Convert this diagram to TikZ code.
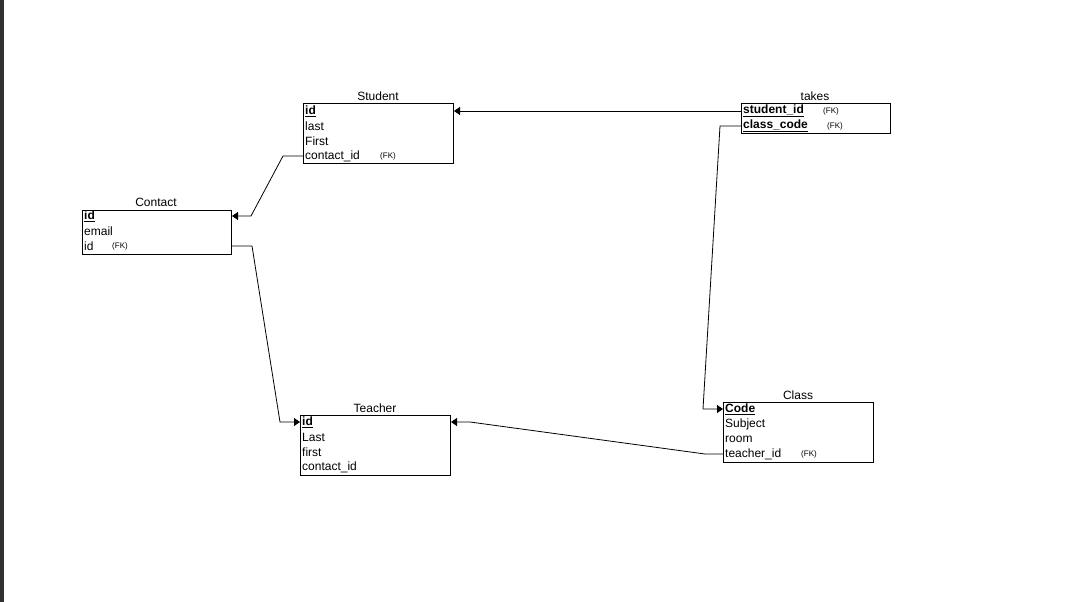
\documentclass[tikz,border=0pt]{standalone}
\usepackage{fontspec}
\setmainfont{Liberation Sans}
\usetikzlibrary{arrows.meta}

\tikzset{
  table/.style={draw,line width=1pt,inner sep=0pt,anchor=north west},
  title/.style={inner sep=0pt,font=\fontsize{12}{12}\selectfont},
  field/.style={inner sep=0pt,anchor=west,font=\fontsize{12}{12}\selectfont},
  fk/.style={inner sep=0pt,anchor=west,font=\fontsize{8}{8}\selectfont},
  link/.style={line width=0.8pt,-{Triangle[length=6pt,width=8pt]}}
}
\newcommand{\pkey}[1]{\underline{\textbf{#1}}}

\begin{document}
\begin{tikzpicture}[x=1pt,y=-1pt]
        \useasboundingbox (0,0) rectangle (1079,602);
        \fill[black!80!cyan!40!black] (0,0) rectangle (4,602);

        % Student
        \node[table,minimum width=150pt,minimum height=60pt] (student) at (303,103){};
        \node[title] (student-t) at (378,96){Student};
        \node[field] (student-id) at (305,111){\pkey{id}};
        \node[field] (student-last) at (305,126){last};
        \node[field] (student-first) at (305,141){First};
        \node[field] (student-cid) at (305,156){contact\_id};
        \node[fk] at (380,156){(FK)};

        % takes
        \node[table,minimum width=149pt,minimum height=30pt] (takes) at (741,103){};
        \node[title] (takes-t) at (815,96){takes};
        \node[field] (takes-sid) at (743,111){\pkey{student\_id}};
        \node[field] (takes-cc) at (743,126){\pkey{class\_code}};
        \node[fk] at (823,111){(FK)};
        \node[fk] at (827,126){(FK)};

        % Contact
        \node[table,minimum width=149pt,minimum height=44pt] (contact) at (82,210){};
        \node[title] (contact-t) at (156,202){Contact};
        \node[field] (contact-id) at (84,216){\pkey{id}};
        \node[field] (contact-email) at (84,231){email};
        \node[field] (contact-fid) at (84,246){id};
        \node[fk] at (112,246){(FK)};

        % Teacher
        \node[table,minimum width=150pt,minimum height=60pt] (teacher) at (300,415){};
        \node[title] (teacher-t) at (375,408){Teacher};
        \node[field] (teacher-id) at (302,422){\pkey{id}};
        \node[field] (teacher-last) at (302,437){Last};
        \node[field] (teacher-first) at (302,452){first};
        \node[field] (teacher-cid) at (302,467){contact\_id};

        % Class
        \node[table,minimum width=150pt,minimum height=60pt] (class) at (723,402){};
        \node[title] (class-t) at (798,395){Class};
        \node[field] (class-code) at (725,409){\pkey{Code}};
        \node[field] (class-subj) at (725,424){Subject};
        \node[field] (class-room) at (725,439){room};
        \node[field] (class-tid) at (725,454){teacher\_id};
        \node[fk] at (801,454){(FK)};

        % links
        \draw[link] (takes.west |- takes-sid) -- (student.east |- takes-sid);
        \draw[link] (student.west |- student-cid) -- ++(-20,0) -- (251,216) -- (contact.east |- contact-id);
        \draw[link] (contact.east |- contact-fid) -- ++(20,0) -- (280,422) -- (teacher.west |- teacher-id);
        \draw[link] (class.west |- class-tid) -- ++(-18,0) -- (470,422) -- (teacher.east |- teacher-id);
        \draw[link] (takes.west |- takes-cc) -- ++(-21,0) -- (703,409) -- (class.west |- class-code);
    \end{tikzpicture}
\end{document}
